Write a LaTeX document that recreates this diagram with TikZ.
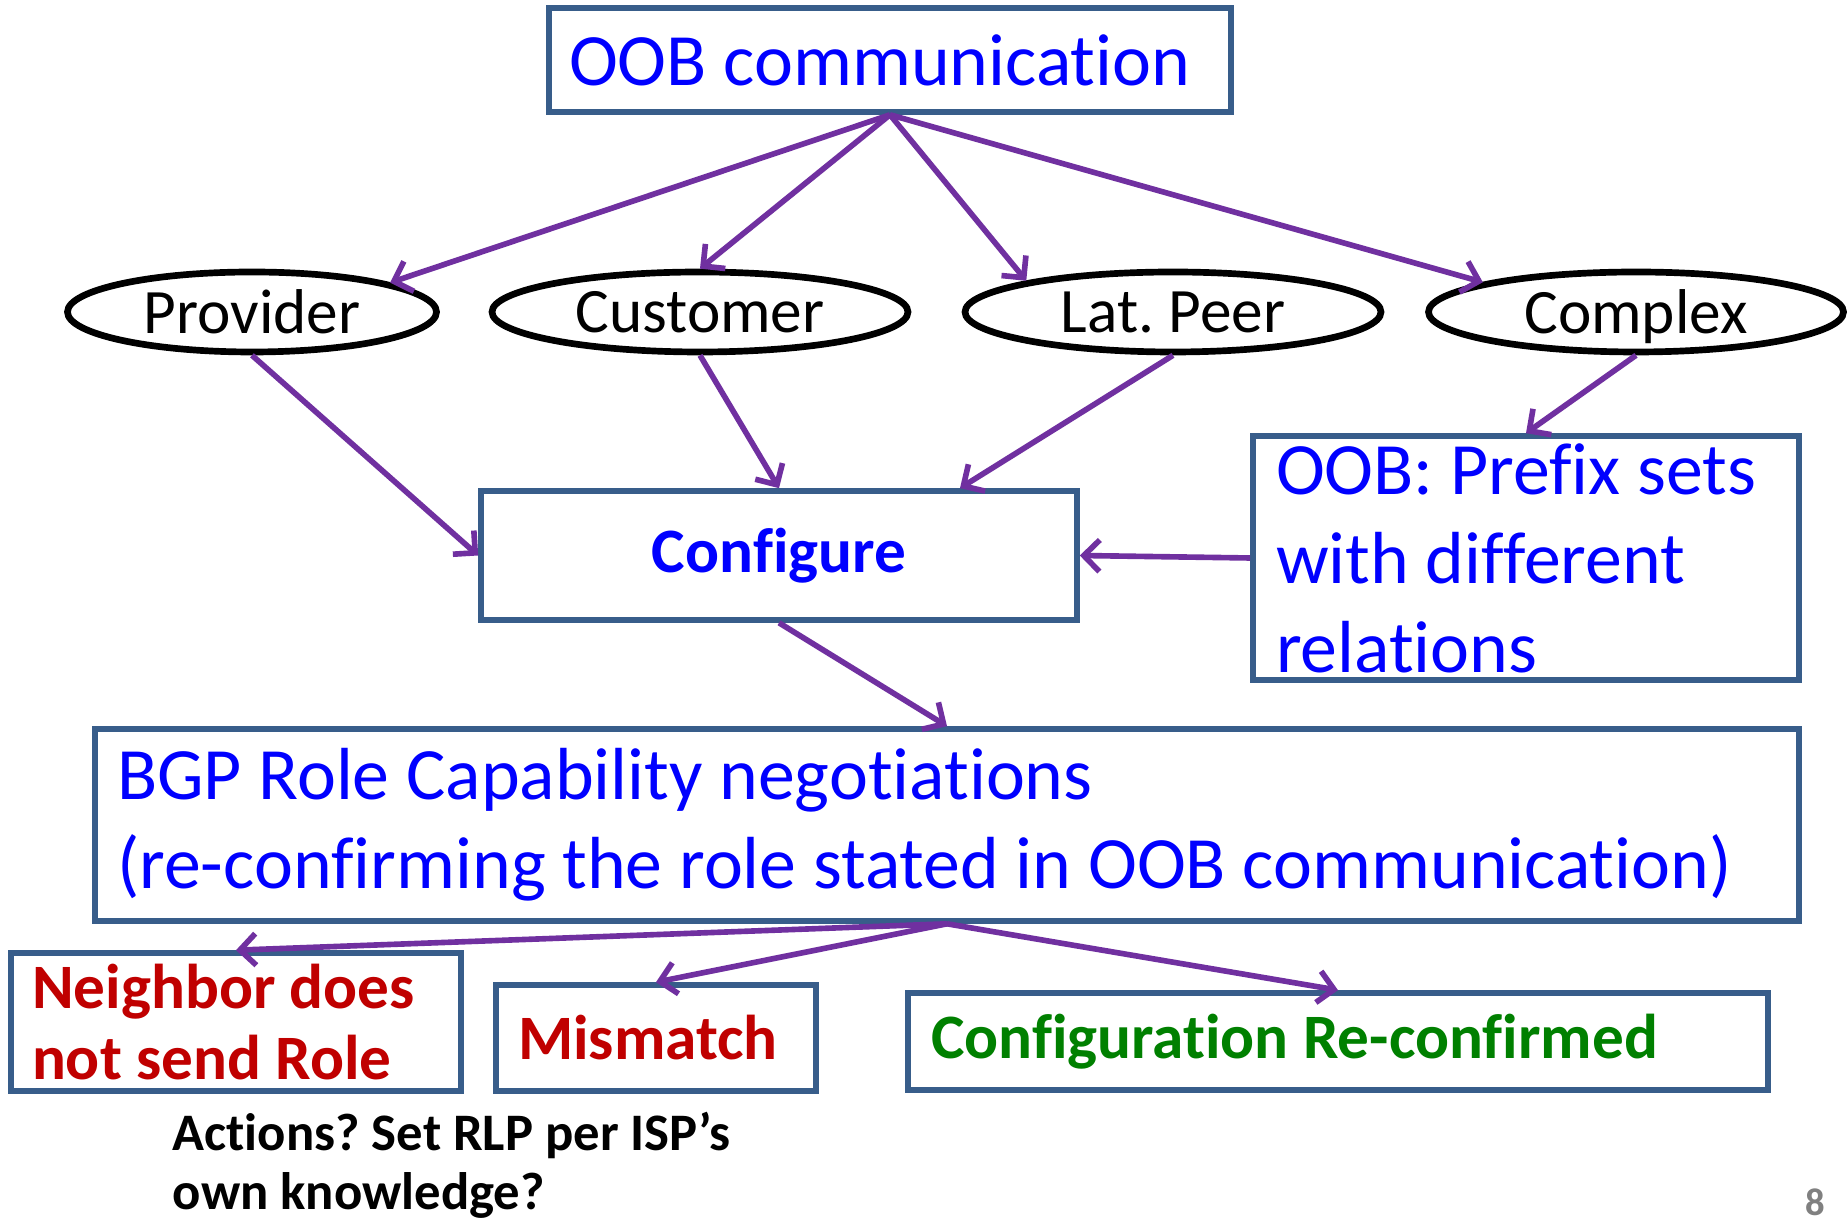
\documentclass[tikz,border=0pt]{standalone}
\usepackage{fontspec}
\setmainfont{Carlito}[Ligatures={NoCommon}]
\usepackage{tikz}
\usetikzlibrary{positioning,arrows.meta,shapes.geometric,calc}
\usepackage{xcolor}
\definecolor{framebl}{RGB}{56,93,138}
\definecolor{arrowpur}{RGB}{112,48,160}
\definecolor{txtblue}{RGB}{0,0,255}
\definecolor{txtred}{RGB}{192,0,0}
\definecolor{txtgreen}{RGB}{0,128,0}
\definecolor{pagegray}{RGB}{128,128,128}
\frenchspacing

\begin{document}
\begin{tikzpicture}[
  box/.style={rectangle,draw=framebl,line width=1.6pt,inner ysep=0pt,align=flush left},
  role/.style={ellipse,draw=black,line width=1.9pt,inner sep=0pt,minimum height=0.8cm,
    text depth=0pt,font=\fontsize{18}{21}\selectfont},
  big/.style={font=\fontsize{21}{25.3}\selectfont,text=txtblue},
  res/.style={font=\bfseries\fontsize{18}{20.2}\selectfont},
  link/.style={draw=arrowpur,line width=1.6pt,-{Straight Barb[length=4.5pt,width=9pt]}}
]
\path[use as bounding box,fill=white] (0,0) rectangle (18.47,12.21);

\node[box,big,text width=6.42cm,inner xsep=0.2cm,minimum height=1.04cm] (oob) at (8.90,11.61) {OOB communication};

\node[role,minimum width=3.69cm] (prov) at (2.52,9.09) {Provider};
\node[role,minimum width=4.16cm] (cust) at (7.00,9.09) {Customer};
\node[role,minimum width=4.16cm] (lat) at (11.73,9.09) {Lat. Peer};
\node[role,minimum width=4.15cm] (cplx) at (16.36,9.09) {Complex};

\node[box,align=center,minimum width=5.96cm,minimum height=1.29cm,text=txtblue,
  font=\bfseries\fontsize{18}{21}\selectfont] (conf) at (7.79,6.655) {Configure};
\node[box,big,text width=5.00cm,inner xsep=0.23cm,minimum height=2.44cm] (prefix) at (15.26,6.63)
  {OOB: Prefix sets\\with different\\relations};

\node[box,big,text width=16.60cm,inner xsep=0.22cm,minimum height=1.92cm] (bgp) at (9.47,3.96)
  {BGP Role Capability negotiations\\(re-confirming the role stated in OOB communication)};

\node[box,res,text=txtred,text width=4.08cm,inner xsep=0.21cm,minimum height=1.38cm] (neigh) at (2.36,1.99)
  {Neighbor does\\not send Role};
\node[box,res,text=txtred,text width=2.76cm,inner xsep=0.22cm,minimum height=1.06cm] (mism) at (6.56,1.83) {Mismatch};
\node[box,res,text=txtgreen,text width=8.14cm,inner xsep=0.23cm,minimum height=0.97cm] (reconf) at (13.38,1.795)
  {Configuration Re-confirmed};

\node[anchor=north west,inner sep=0pt,align=left,font=\bfseries\fontsize{15}{16.8}\selectfont] (actions) at (1.72,1.10)
  {Actions? Set RLP per ISP’s\\own knowledge?};
\node[text=pagegray,font=\bfseries\fontsize{11}{13}\selectfont] (pagenum) at (18.15,0.19) {8};

\foreach \t in {prov.12,cust.north,lat.168,cplx.169}
  \draw[link] (oob.south) -- (\t);
\draw[link] (prov.south) -- (conf.west);
\draw[link] (cust.south) -- (conf.north);
\draw[link] (lat.south) -- ([xshift=1.81cm]conf.north);
\draw[link] (cplx.south) -- (prefix.north);
\draw[link] (prefix.west) -- (conf.east);
\draw[link] (conf.south) -- (bgp.north);
\foreach \t in {neigh.north,mism.north,reconf.north}
  \draw[link] (bgp.south) -- (\t);
\end{tikzpicture}
\end{document}
